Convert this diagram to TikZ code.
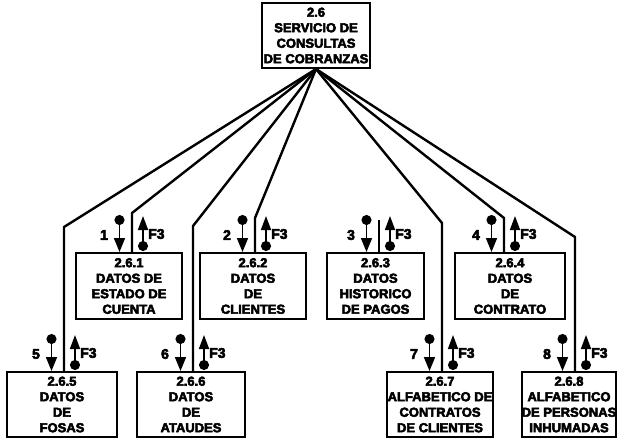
\documentclass[tikz,border=0pt]{standalone}
\usepackage{fontspec}
\setmainfont{Liberation Sans}[BoldFeatures={FakeBold=4}]
\usetikzlibrary{arrows.meta}

\begin{document}
\begin{tikzpicture}[x=1pt,y=-1pt,
  box/.style={draw,line width=2pt,inner sep=0pt,align=center,
    font=\fontsize{13}{15.5}\selectfont\bfseries},
  conn/.style={line width=2.4pt,line join=round},
  couple/.style={line width=1.6pt},
  lbl/.style={font=\fontsize{14}{15}\selectfont\bfseries,inner sep=0pt},
  dn/.style={couple,{Circle[length=10pt]}-{Triangle[length=14pt,width=11pt]}},
  up/.style={couple,{Circle[length=10pt]}-{Triangle[length=14pt,width=10pt]}}]
\useasboundingbox (0,0) rectangle (618,439);

% modules
\node[box,minimum width=108pt,minimum height=65pt] (b26) at (316,35.5)
  {2.6\\SERVICIO DE\\CONSULTAS\\DE COBRANZAS};
\node[box,minimum width=106pt,minimum height=66pt] (b261) at (129,286)
  {2.6.1\\DATOS DE\\ESTADO DE\\CUENTA};
\node[box,minimum width=106pt,minimum height=66pt] (b262) at (253,286)
  {2.6.2\\DATOS\\DE\\CLIENTES};
\node[box,minimum width=97pt,minimum height=66pt] (b263) at (375.5,286)
  {2.6.3\\DATOS\\HISTORICO\\DE PAGOS};
\node[box,minimum width=110pt,minimum height=66pt] (b264) at (510,286)
  {2.6.4\\DATOS\\DE\\CONTRATO};
\node[box,minimum width=110pt,minimum height=65pt] (b265) at (62,404.5)
  {2.6.5\\DATOS\\DE\\FOSAS};
\node[box,minimum width=108pt,minimum height=65pt] (b266) at (191,404.5)
  {2.6.6\\DATOS\\DE\\ATAUDES};
\node[box,minimum width=106pt,minimum height=65pt] (b267) at (440,404.5)
  {2.6.7\\ALFABETICO DE\\CONTRATOS\\DE CLIENTES};
\node[box,minimum width=90pt,minimum height=65pt] (b268) at (569,404.5)
  {2.6.8\\ALFABETICO\\DE PERSONAS\\INHUMADAS};

% bends of the calls
\coordinate (k5) at (64,227);
\coordinate (k1) at (132,213);
\coordinate (k6) at (193,226);
\coordinate (k2) at (255,218);
\coordinate (k3) at (379,220);
\coordinate (k7) at (442,223);
\coordinate (k4) at (504,218);
\coordinate (k8) at (575,237);

% calls from the main module
\foreach \k/\b in {k5/b265,k1/b261,k6/b266,k2/b262,k7/b267,k4/b264,k8/b268}
  \draw[conn] (b26.south) -- (\k) -- (\k |- \b.north);
\draw[conn] (k3) -- (k3 |- b263.north);

% data couples and flags
\foreach \k/\b/\n in {k1/b261/1,k2/b262/2,k3/b263/3,k4/b264/4,
                      k5/b265/5,k6/b266/6,k7/b267/7,k8/b268/8}{
  \coordinate (\b-d) at ([xshift=-12.5pt]\k |- \b.north);
  \coordinate (\b-u) at ([xshift=11pt]\k |- \b.north);
  \draw[dn] ([yshift=37pt]\b-d) -- (\b-d);
  \draw[up] ([yshift=1pt]\b-u) -- ([yshift=36pt]\b-u);
  \node[lbl] (\b-n) at ([xshift=-28pt,yshift=17pt]\k |- \b.north) {\n};
  \node[lbl,anchor=west] (\b-f) at ([xshift=16pt,yshift=18pt]\k |- \b.north) {F3};
}
\end{tikzpicture}
\end{document}
